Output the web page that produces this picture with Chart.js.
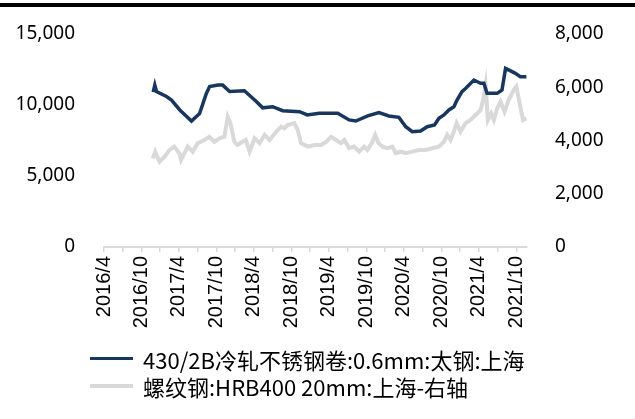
<!DOCTYPE html>
<html>
<head>
<meta charset="utf-8">
<script src="https://cdn.jsdelivr.net/npm/chart.js@4.4.1/dist/chart.umd.min.js"></script>
<style>
    body { margin: 0; background: #fff; }
    #wrap { position: relative; width: 635px; height: 419px; overflow: hidden; }
    #topbar { position: absolute; left: 0; top: 3px; width: 635px; height: 4px; background: #000; }
    #chart { position: absolute; left: 0; top: 0; }
    .legend { position: absolute; left: 90px; top: 345px; font-family: "Noto Sans CJK SC", "Noto Sans", sans-serif; font-size: 22px; color: #000; }
    .legend .row { display: flex; align-items: center; height: 27px; white-space: nowrap; }
    .legend .swatch { width: 43px; margin-right: 10px; }
</style>
</head>
<body>
<div id="wrap">
    <canvas id="chart" width="635" height="419"></canvas>
    <div id="topbar"></div>
    <div class="legend" id="legend"></div>
</div>
<script>
// 430/2B cold rolled stainless (left axis)
const steelDates = [
    '2016-11-27', '2016-12-05', '2016-12-13', '2017-02-01', '2017-02-25', '2017-04-05',
    '2017-06-01', '2017-07-10', '2017-08-12', '2017-08-28', '2017-10-08', '2017-11-01',
    '2017-12-04', '2018-02-15', '2018-04-12', '2018-05-13', '2018-07-01', '2018-08-19',
    '2018-11-10', '2018-12-17', '2019-02-15', '2019-05-13', '2019-07-08', '2019-08-10',
    '2019-10-07', '2019-12-01', '2020-01-19', '2020-03-07', '2020-04-10', '2020-05-11',
    '2020-06-21', '2020-07-23', '2020-08-28', '2020-09-19', '2020-10-13', '2020-11-07',
    '2020-12-01', '2020-12-16', '2021-01-10', '2021-01-28', '2021-03-07', '2021-04-09',
    '2021-04-25', '2021-05-10', '2021-06-29', '2021-07-22', '2021-08-09', '2021-08-24',
    '2021-09-26', '2021-10-20', '2021-11-19'
];
const steelValues = [
    10900, 11400, 10950, 10600, 10350, 9650,
    8870, 9400, 10800, 11300, 11400, 11400,
    10950, 11000, 10250, 9800, 9880, 9600,
    9530, 9300, 9420, 9420, 8950, 8870,
    9230, 9460, 9230, 9130, 8470, 8120,
    8170, 8470, 8590, 9060, 9300, 9650,
    9880, 10350, 10940, 11180, 11760, 11530,
    11530, 10820, 10820, 11060, 12580, 12470,
    12230, 11990, 11990
];

// rebar HRB400 20mm (right axis)
const rebarDates = [
    '2016-11-25', '2016-12-07', '2016-12-28', '2017-01-22', '2017-02-15', '2017-03-09',
    '2017-04-03', '2017-04-11', '2017-05-13', '2017-06-07', '2017-07-01', '2017-08-03',
    '2017-08-27', '2017-09-21', '2017-10-15', '2017-11-09', '2017-11-25', '2017-12-08',
    '2017-12-27', '2018-01-12', '2018-02-06', '2018-02-22', '2018-03-10', '2018-04-04',
    '2018-04-28', '2018-05-22', '2018-06-16', '2018-07-18', '2018-08-12', '2018-08-27',
    '2018-09-13', '2018-10-15', '2018-11-01', '2018-11-17', '2018-12-19', '2019-01-21',
    '2019-02-23', '2019-03-17', '2019-04-11', '2019-05-05', '2019-05-29', '2019-06-15',
    '2019-07-08', '2019-08-02', '2019-08-26', '2019-09-20', '2019-10-06', '2019-10-30',
    '2019-11-13', '2019-11-29', '2019-12-18', '2020-01-12', '2020-02-06', '2020-02-22',
    '2020-03-16', '2020-04-10', '2020-05-11', '2020-06-13', '2020-07-15', '2020-08-17',
    '2020-09-19', '2020-10-13', '2020-10-29', '2020-11-15', '2020-12-01', '2020-12-14',
    '2021-01-03', '2021-01-27', '2021-02-21', '2021-03-15', '2021-04-09', '2021-04-21',
    '2021-05-03', '2021-05-14', '2021-05-30', '2021-06-13', '2021-06-29', '2021-07-15',
    '2021-08-04', '2021-08-24', '2021-09-18', '2021-10-01', '2021-10-17', '2021-11-03',
    '2021-11-19'
];
const rebarValues = [
    3330, 3580, 3200, 3390, 3640, 3770,
    3520, 3270, 3770, 3580, 3900, 4020,
    4140, 3950, 4080, 4140, 4890, 4650,
    3950, 3830, 3950, 4020, 3580, 4080,
    3900, 4210, 4020, 4330, 4520, 4460,
    4580, 4650, 4400, 3900, 3770, 3830,
    3830, 3950, 4140, 4020, 3900, 4020,
    3710, 3770, 3580, 3770, 3640, 3950,
    4210, 3900, 3770, 3710, 3770, 3520,
    3580, 3520, 3580, 3640, 3640, 3710,
    3770, 3950, 4210, 4020, 4330, 4650,
    4330, 4650, 4770, 4960, 5140, 5520,
    6080, 4770, 5020, 4770, 5210, 5460,
    5080, 5520, 5890, 6020, 5390, 4770,
    4830
];

const seriesLabels = ['430/2B冷轧不锈钢卷:0.6mm:太钢:上海', '螺纹钢:HRB400 20mm:上海-右轴'];
const seriesColors = ['#17375e', '#d9d9d9'];
const leftTicks = [0, 5000, 10000, 15000];
const rightTicks = [0, 2000, 4000, 6000, 8000];

// months since 2016/4
function toMonth(s) {
    const [y, m, d] = s.split('-').map(Number);
    return (y - 2016) * 12 + (m - 4) + (d - 1) / 30;
}
function monthLabel(v) {
    const total = v + 3;
    return (2016 + Math.floor(total / 12)) + '/' + (total % 12 + 1);
}

const steelPoints = steelDates.map((d, i) => ({ x: toMonth(d), y: steelValues[i] }));
const rebarPoints = rebarDates.map((d, i) => ({ x: toMonth(d), y: rebarValues[i] }));

const tickFont = { family: 'Noto Sans', size: 19 };

new Chart(document.getElementById('chart'), {
    type: 'line',
    data: {
        datasets: [
            {
                label: seriesLabels[0],
                data: steelPoints,
                borderColor: seriesColors[0],
                borderWidth: 3.5,
                pointRadius: 0,
                tension: 0,
                yAxisID: 'y'
            },
            {
                label: seriesLabels[1],
                data: rebarPoints,
                borderColor: seriesColors[1],
                borderWidth: 4,
                pointRadius: 0,
                tension: 0,
                yAxisID: 'y1'
            }
        ]
    },
    options: {
        responsive: false,
        animation: false,
        layout: { padding: { top: 34, left: 0, right: 0, bottom: 0 } },
        plugins: { legend: { display: false }, tooltip: { enabled: false } },
        scales: {
            x: {
                type: 'linear',
                min: 0,
                max: 67.7,
                afterBuildTicks: scale => {
                    const t = [];
                    for (let v = 0; v <= 66; v += 3) t.push({ value: v });
                    scale.ticks = t;
                },
                afterFit: scale => {
                    scale.height = 172;
                    scale.paddingLeft = 0;
                    scale.paddingRight = 0;
                },
                ticks: {
                    autoSkip: false,
                    minRotation: 90,
                    maxRotation: 90,
                    padding: 4,
                    color: '#000',
                    font: { family: 'Liberation Sans', size: 20 },
                    callback: v => (v % 6 === 0 ? monthLabel(v) : '')
                },
                grid: { drawOnChartArea: false, drawTicks: true, tickLength: 5, color: '#d9d9d9', lineWidth: 1.5 },
                border: { color: '#d9d9d9', width: 2 }
            },
            y: {
                position: 'left',
                min: 0,
                max: 15000,
                afterBuildTicks: scale => { scale.ticks = leftTicks.map(v => ({ value: v })); },
                afterFit: scale => {
                    scale.width = 104;
                    scale.paddingTop = 0;
                    scale.paddingBottom = 0;
                },
                ticks: {
                    padding: 29,
                    color: '#000',
                    font: tickFont,
                    callback: v => v.toLocaleString('en-US')
                },
                grid: { display: false, drawTicks: false },
                border: { display: false }
            },
            y1: {
                position: 'right',
                min: 0,
                max: 8000,
                afterBuildTicks: scale => { scale.ticks = rightTicks.map(v => ({ value: v })); },
                afterFit: scale => {
                    scale.width = 108;
                    scale.paddingTop = 0;
                    scale.paddingBottom = 0;
                },
                ticks: {
                    padding: 28,
                    color: '#000',
                    font: tickFont,
                    callback: v => v.toLocaleString('en-US')
                },
                grid: { display: false, drawTicks: false },
                border: { display: false }
            }
        }
    }
});

// legend, stacked and left aligned like the original
const legend = document.getElementById('legend');
seriesLabels.forEach((label, i) => {
    const row = document.createElement('div');
    row.className = 'row';
    row.innerHTML = `<span class="swatch" style="height:${i === 0 ? 3 : 4}px;background:${seriesColors[i]}"></span><span>${label}</span>`;
    legend.appendChild(row);
});
</script>
</body>
</html>
